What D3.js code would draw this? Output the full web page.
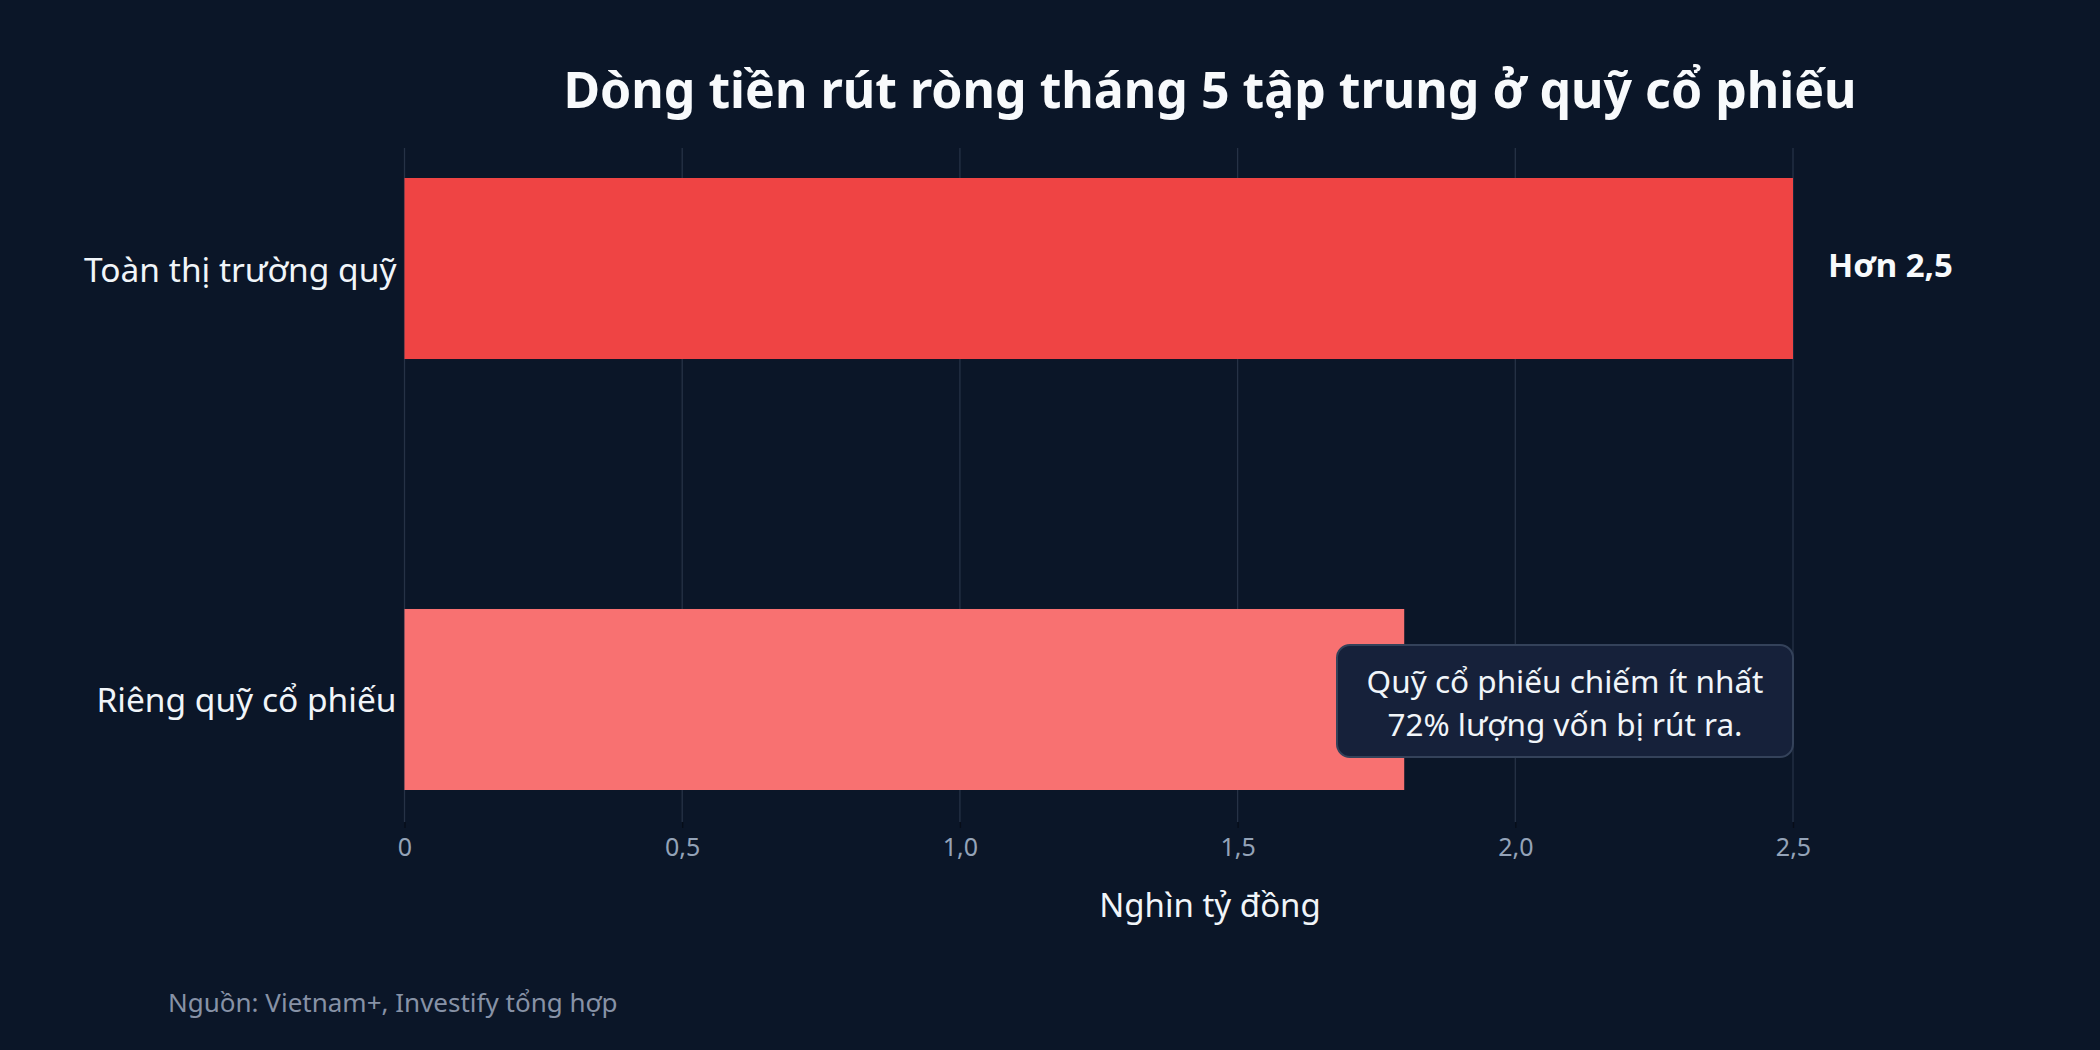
<!DOCTYPE html>
<html><head><meta charset="utf-8">
<script src="https://cdn.jsdelivr.net/npm/d3@7"></script>
<style>
html,body{margin:0;padding:0;background:#0b1628;}
svg{display:block;font-family:"Noto Sans",sans-serif;}
</style></head>
<body>
<svg id="chart" width="2100" height="1050"></svg>
<script>
const categories = ["Toàn thị trường quỹ", "Riêng quỹ cổ phiếu"];
const values = [2.5, 1.8];
const barColors = ["#ef4444", "#f87171"];
const tickValues = [0, 0.5, 1.0, 1.5, 2.0, 2.5];
const tickLabels = ["0", "0,5", "1,0", "1,5", "2,0", "2,5"];
const valueLabel = "Hơn 2,5";
const title = "Dòng tiền rút ròng tháng 5 tập trung ở quỹ cổ phiếu";
const xTitle = "Nghìn tỷ đồng";
const source = "Nguồn: Vietnam+, Investify tổng hợp";
const note = ["Quỹ cổ phiếu chiếm ít nhất", "72% lượng vốn bị rút ra."];

const svg = d3.select("#chart");
svg.append("rect").attr("width",2100).attr("height",1050).attr("fill","#0b1628");

const x = d3.scaleLinear().domain([0, 2.5]).range([404.5, 1793]);
const y = d3.scaleBand().domain(categories).range([178, 790]).paddingInner(0.58).paddingOuter(0);

// gridlines
const xAxis = d3.axisBottom(x).tickValues(tickValues)
  .tickFormat((d,i)=>tickLabels[i]).tickSize(6).tickPadding(10);
const grid = svg.append("g");
grid.selectAll("line").data(tickValues).join("line")
  .attr("x1", d=>x(d)).attr("x2", d=>x(d))
  .attr("y1", 148).attr("y2", 822)
  .attr("stroke", "#263246").attr("stroke-width", 1.3);

const ax = svg.append("g").attr("transform","translate(0,822)").call(xAxis);
ax.select(".domain").remove();
ax.selectAll(".tick line").attr("stroke","#070d18").attr("stroke-width",1.3);
ax.selectAll(".tick text").attr("fill","#94a3b8").attr("font-size",25)
  .attr("font-family","Noto Sans");

// bars
svg.append("g").selectAll("rect").data(values).join("rect")
  .attr("x", x(0))
  .attr("y", (d,i)=>y(categories[i]))
  .attr("width", d=>x(d)-x(0))
  .attr("height", y.bandwidth())
  .attr("fill", (d,i)=>barColors[i]);

// category labels
svg.append("g").selectAll("text").data(categories).join("text")
  .attr("x", x(0) - 8)
  .attr("y", d=>y(d)+y.bandwidth()/2)
  .attr("text-anchor","end").attr("dominant-baseline","central")
  .attr("fill","#f1f5f9").attr("font-size",33.5)
  .text(d=>d);

// value label
svg.append("text")
  .attr("x", x(values[0]) + 35)
  .attr("y", y(categories[0]) + y.bandwidth()/2 - 4)
  .attr("dominant-baseline","central")
  .attr("fill","#f8fafc").attr("font-size",33).attr("font-weight","bold")
  .text(valueLabel);

// annotation box
const bx = 1337, bw = 456, by = 645, bh = 112;
svg.append("rect").attr("x",bx).attr("y",by).attr("width",bw).attr("height",bh)
  .attr("rx",13).attr("fill","#16213a").attr("stroke","#34425a").attr("stroke-width",2);
svg.append("g").selectAll("text").data(note).join("text")
  .attr("x", bx + bw/2)
  .attr("y", (d,i)=> by + 35 + i*43)
  .attr("text-anchor","middle").attr("dominant-baseline","central")
  .attr("fill","#f1f5f9").attr("font-size",31.5)
  .text(d=>d);

// title
svg.append("text").attr("x",1210).attr("y",89)
  .attr("text-anchor","middle").attr("dominant-baseline","central")
  .attr("fill","#f8fafc").attr("font-size",50).attr("font-weight","bold")
  .text(title);

// x axis title
svg.append("text").attr("x", 1210).attr("y", 904)
  .attr("text-anchor","middle").attr("dominant-baseline","central")
  .attr("fill","#f1f5f9").attr("font-size",33)
  .text(xTitle);

// source
svg.append("text").attr("x",168).attr("y",1002)
  .attr("dominant-baseline","central")
  .attr("fill","#8792a6").attr("font-size",26)
  .text(source);
</script>
</body></html>
